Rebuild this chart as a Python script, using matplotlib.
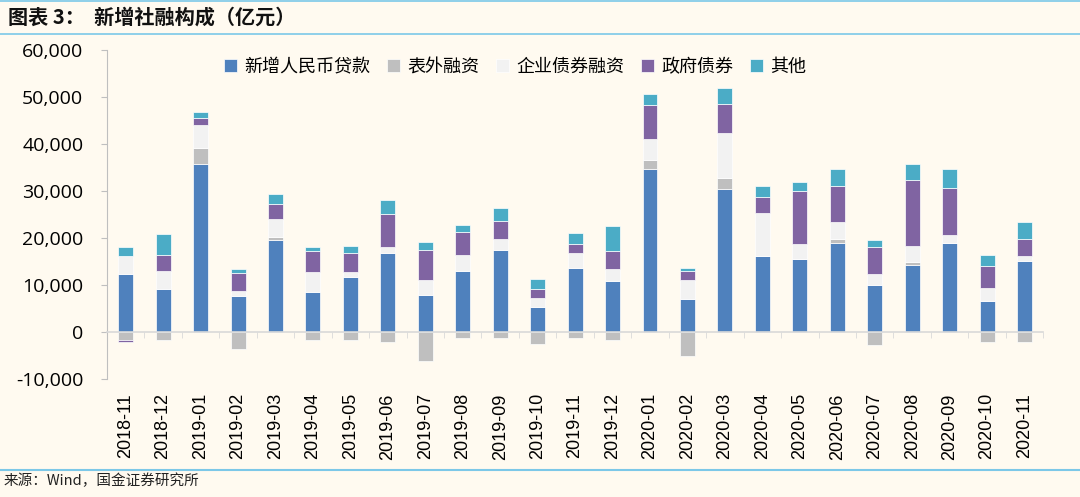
import numpy as np
import matplotlib.pyplot as plt
from matplotlib.lines import Line2D
from matplotlib.ticker import FuncFormatter, FixedLocator

plt.rcParams['font.family'] = ['Noto Sans CJK SC', 'DejaVu Sans']

# 新增社融构成, 亿元
months = ['2018-11', '2018-12', '2019-01', '2019-02', '2019-03', '2019-04', '2019-05',
          '2019-06', '2019-07', '2019-08', '2019-09', '2019-10', '2019-11', '2019-12',
          '2020-01', '2020-02', '2020-03', '2020-04', '2020-05', '2020-06', '2020-07',
          '2020-08', '2020-09', '2020-10', '2020-11']
loans = [12300, 9200, 35700, 7700, 19600, 8600, 11700, 16800, 7900, 13000, 17400, 5400, 13600,
         10800, 34800, 7000, 30400, 16200, 15500, 19000, 10100, 14200, 19000, 6700, 15200]
off_bal = [-1800, -1800, 3500, -3700, 600, -1600, -1600, -2100, -6200, -1200, -1200, -2500, -1200,
           -1600, 1900, -5000, 2300, 0, 0, 900, -2700, 700, 0, -2100, -2100]
bonds = [3900, 3800, 4800, 1000, 3800, 4100, 1000, 1200, 3200, 3400, 2500, 1900, 3200,
         2600, 4300, 4100, 9700, 9200, 3200, 3500, 2300, 3500, 1600, 2600, 900]
gov = [-400, 3500, 1500, 3900, 3200, 4500, 4100, 7100, 6400, 5000, 3800, 1900, 1900,
       3800, 7400, 1900, 6200, 3400, 11300, 7600, 5700, 13900, 10100, 4800, 3800]
other = [1900, 4400, 1400, 800, 2200, 900, 1600, 3100, 1600, 1400, 2600, 2000, 2300,
         5400, 2300, 600, 3300, 2300, 1900, 3800, 1600, 3500, 4100, 2200, 3500]

names = ['新增人民币贷款', '表外融资', '企业债券融资', '政府债券', '其他']
colors = ['#4F81BD', '#BFBFBF', '#F2F2F2', '#8064A2', '#4BACC6']

bg = '#FFFAF0'
fig = plt.figure(figsize=(10.8, 4.97), dpi=100, facecolor=bg)
ax = fig.add_axes([0.099, 0.2374, 0.867, 0.6616], facecolor=bg)

x = np.arange(len(months))
pos_base = np.zeros(len(months))
neg_base = np.zeros(len(months))
for name, vals, c in zip(names, [loans, off_bal, bonds, gov, other], colors):
    v = np.array(vals, dtype=float)
    bottom = np.where(v >= 0, pos_base, neg_base)
    ax.bar(x, v, 0.4, bottom=bottom, color=c, label=name, edgecolor='#FFFFFF', linewidth=0.5)
    pos_base += np.clip(v, 0, None)
    neg_base += np.clip(v, None, 0)

ax.set_xlim(-0.5, len(months) - 0.5)
ax.set_ylim(-10000, 60000)
ax.set_yticks(np.arange(-10000, 60001, 10000))
ax.yaxis.set_major_formatter(FuncFormatter(lambda v, p: f'{int(v):,}'))

for s in ['top', 'right']:
    ax.spines[s].set_visible(False)
ax.spines['left'].set_color('#BFBFBF')
ax.spines['bottom'].set_position(('data', 0))
ax.spines['bottom'].set_color('#D9D9D9')
ax.spines['bottom'].set_linewidth(1.2)

ax.set_xticks(x)
ax.set_xticklabels(months, rotation=90, family='Liberation Sans', fontsize=13)
ax.xaxis.set_minor_locator(FixedLocator(np.arange(0.5, len(months), 1)))
ax.tick_params(axis='x', which='major', length=0, pad=44)
ax.tick_params(axis='x', which='minor', length=4, color='#D9D9D9', direction='out')
ax.tick_params(axis='y', length=4, color='#BFBFBF', direction='out', pad=13)
for t in ax.get_yticklabels():
    t.set_family('Open Sans')
    t.set_fontsize(14)

leg = fig.legend(loc='center', bbox_to_anchor=(0.477, 0.865), ncol=5, frameon=False,
                 fontsize=13, handlelength=0.7, handleheight=0.7, handletextpad=0.4,
                 columnspacing=0.95)

fig.text(0.007, 0.965, '图表 3：  新增社融构成（亿元）', fontsize=14.5, fontweight='bold',
         style='italic', va='center', ha='left', color='#111111')
fig.text(0.003, 0.032, '来源：Wind，国金证券研究所', fontsize=10.5, va='center', ha='left',
         color='#222222')

line_c = '#7CC8E8'
fig.add_artist(Line2D([0, 1], [0.998, 0.998], color=line_c, lw=1.2, transform=fig.transFigure))
fig.add_artist(Line2D([0, 1], [0.931, 0.931], color=line_c, lw=1.2, transform=fig.transFigure))
fig.add_artist(Line2D([0, 1], [0.055, 0.055], color=line_c, lw=1.5, transform=fig.transFigure))

fig.savefig('out.png', dpi=100, facecolor=bg)
